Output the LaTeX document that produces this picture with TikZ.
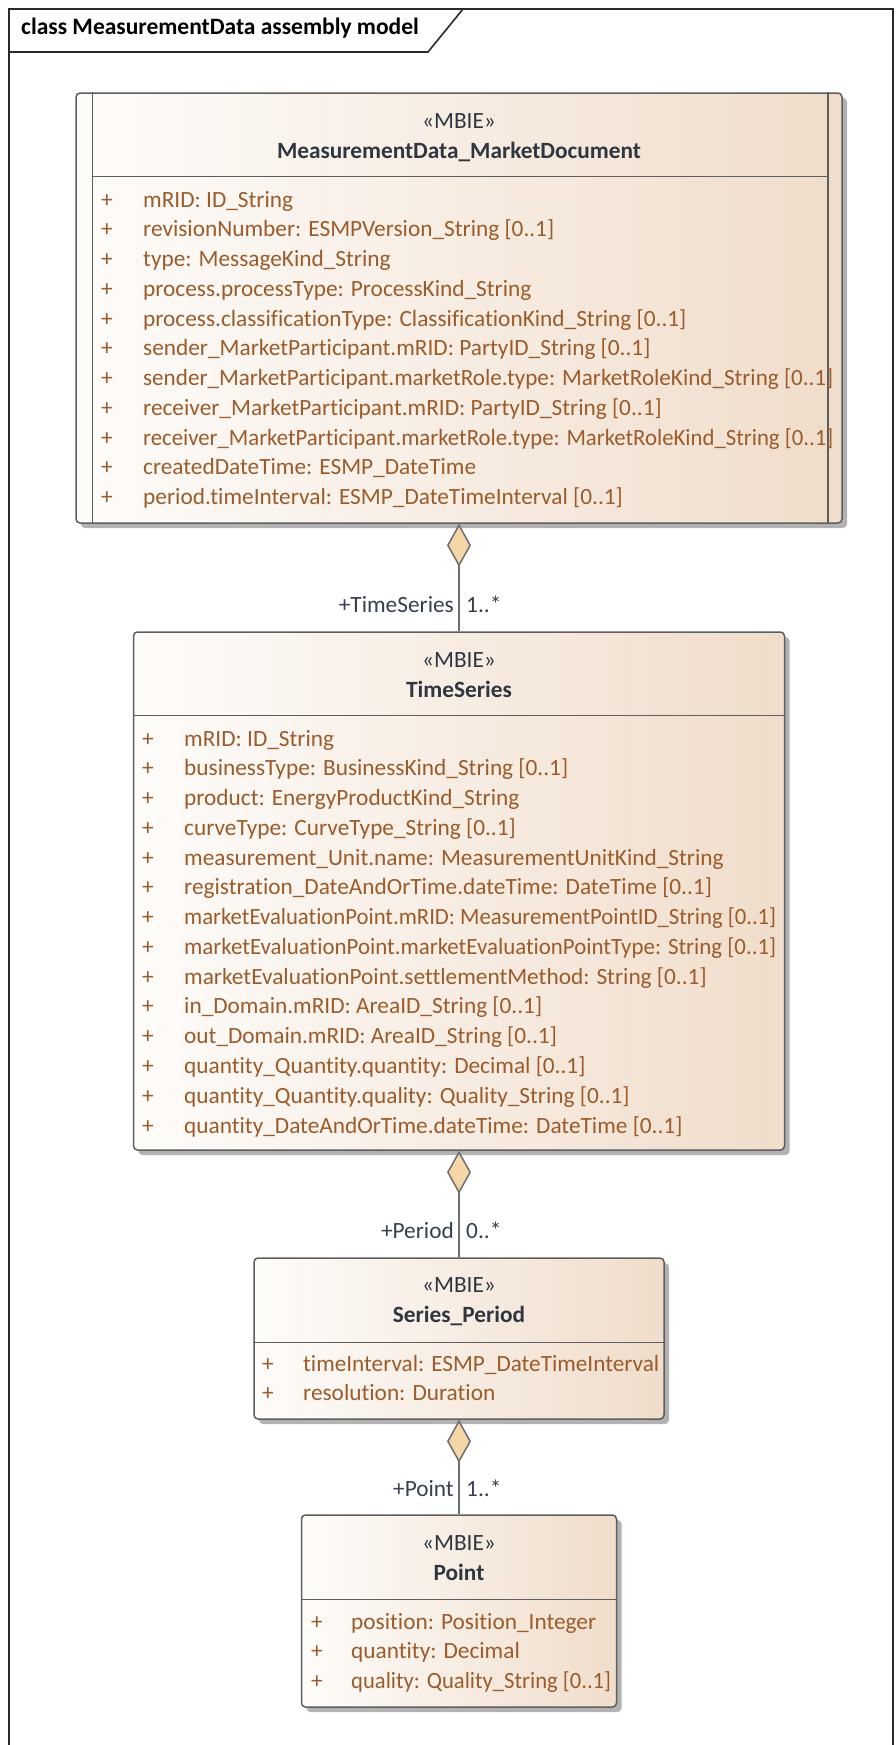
\documentclass[tikz,border=0pt]{standalone}
\usepackage{fontspec}
\setmainfont{Carlito}[Ligatures={NoCommon,NoDiscretionary,NoRare}]
\usepackage{graphicx}
\usetikzlibrary{arrows.meta,shadows}
\definecolor{attrc}{HTML}{9B5B2B}
\definecolor{headc}{HTML}{2F3640}
\definecolor{labc}{HTML}{36404F}
\definecolor{boxc}{HTML}{5E5E5E}
\definecolor{gradl}{HTML}{FEFCFA}
\definecolor{gradr}{HTML}{F0DDCB}
\definecolor{diac}{HTML}{F5D6A8}
\definecolor{linec}{HTML}{6E6E6E}
\definecolor{framec}{HTML}{2A2A2A}
\newcommand\dfont{\fontsize{23.3}{29.75}\selectfont}
\newcommand\tfont{\fontsize{23.5}{29}\selectfont\bfseries}
\newcommand\fitw[2]{\setbox0=\hbox{#2}\ifdim\wd0>#1\relax\resizebox{#1}{\height}{\box0}\else\box0\fi}
\begin{document}
\begin{tikzpicture}[x=1pt,y=-1pt,
  umlbox/.style={draw=boxc, line width=1.5pt, rounded corners=4pt,
    left color=gradl, right color=gradr, inner sep=0pt,
    drop shadow={shadow xshift=5pt, shadow yshift=-5pt, opacity=0.3, fill=black}},
  sepline/.style={draw=boxc, line width=1.5pt},
  stereo/.style={font=\dfont, text=headc, anchor=base, inner sep=0pt},
  cname/.style={font=\dfont\bfseries, text=headc, anchor=base, inner sep=0pt},
  plus/.style={font=\dfont, text=attrc, anchor=base, inner sep=0pt},
  attr/.style={font=\dfont, text=attrc, anchor=base west, inner sep=0pt},
  lab/.style={font=\dfont, text=labc, inner sep=0pt},
  aggr/.style={draw=linec, line width=1.8pt,
    {Diamond[length=43pt,width=24pt,fill=diac,line width=1.5pt]}-}
]
\useasboundingbox (0,0) rectangle (896,1745);
\fill[white] (0,0) rectangle (896,1745);
% frame
\draw[framec, line width=1.6pt] (9,1745) -- (9,9) -- (893,9) -- (893,1745);
\draw[framec, line width=1.6pt] (9,52) -- (428,52) -- (463,9);
\node[font=\tfont, text=black, anchor=base west, inner sep=0pt] (title) at (21,35) {class MeasurementData assembly model};

% ---------- MeasurementData_MarketDocument ----------
\node[umlbox, minimum width=766pt, minimum height=430pt] (doc) at (459,308) {};
\draw[sepline] ([xshift=17pt]doc.north west) -- ([xshift=17pt]doc.south west);
\draw[sepline] ([xshift=-15pt]doc.north east) -- ([xshift=-15pt]doc.south east);
\draw[sepline] ([xshift=17pt,yshift=-84pt]doc.north west) -- ([xshift=-15pt,yshift=-84pt]doc.north east);
\node[stereo] (docst) at (459,128) {«MBIE»};
\node[cname] (docnm) at (459,158) {MeasurementData\_MarketDocument};
\foreach \t [count=\i from 0] in {
  {mRID: ID\_String},
  {revisionNumber: ESMPVersion\_String [0..1]},
  {type: MessageKind\_String},
  {process.processType: ProcessKind\_String},
  {process.classificationType: ClassificationKind\_String [0..1]},
  {sender\_MarketParticipant.mRID: PartyID\_String [0..1]},
  {sender\_MarketParticipant.marketRole.type: MarketRoleKind\_String [0..1]},
  {receiver\_MarketParticipant.mRID: PartyID\_String [0..1]},
  {receiver\_MarketParticipant.marketRole.type: MarketRoleKind\_String [0..1]},
  {createdDateTime: ESMP\_DateTime},
  {period.timeInterval: ESMP\_DateTimeInterval [0..1]}} {
  \node[plus] (dp\i) at (107,207+29.75*\i) {+};
  \node[attr] (da\i) at (143,207+29.75*\i) {\fitw{690pt}{\t}};
}

% ---------- TimeSeries ----------
\node[umlbox, minimum width=651pt, minimum height=518pt] (ts) at (459,891) {};
\draw[sepline] ([yshift=-84pt]ts.north west) -- ([yshift=-84pt]ts.north east);
\node[stereo] (tsst) at (459,667) {«MBIE»};
\node[cname] (tsnm) at (459,697) {TimeSeries};
\foreach \t [count=\i from 0] in {
  {mRID: ID\_String},
  {businessType: BusinessKind\_String [0..1]},
  {product: EnergyProductKind\_String},
  {curveType: CurveType\_String [0..1]},
  {measurement\_Unit.name: MeasurementUnitKind\_String},
  {registration\_DateAndOrTime.dateTime: DateTime [0..1]},
  {marketEvaluationPoint.mRID: MeasurementPointID\_String [0..1]},
  {marketEvaluationPoint.marketEvaluationPointType: String [0..1]},
  {marketEvaluationPoint.settlementMethod: String [0..1]},
  {in\_Domain.mRID: AreaID\_String [0..1]},
  {out\_Domain.mRID: AreaID\_String [0..1]},
  {quantity\_Quantity.quantity: Decimal [0..1]},
  {quantity\_Quantity.quality: Quality\_String [0..1]},
  {quantity\_DateAndOrTime.dateTime: DateTime [0..1]}} {
  \node[plus] (tp\i) at (148,746+29.77*\i) {+};
  \node[attr] (ta\i) at (184,746+29.77*\i) {\fitw{592pt}{\t}};
}

% ---------- Series_Period ----------
\node[umlbox, minimum width=410pt, minimum height=161pt] (sp) at (459,1338.5) {};
\draw[sepline] ([yshift=-85pt]sp.north west) -- ([yshift=-85pt]sp.north east);
\node[stereo] (spst) at (459,1292) {«MBIE»};
\node[cname] (spnm) at (459,1322) {Series\_Period};
\foreach \t [count=\i from 0] in {
  {timeInterval: ESMP\_DateTimeInterval},
  {resolution: Duration}} {
  \node[plus] (sq\i) at (268,1371+29.75*\i) {+};
  \node[attr] (sa\i) at (303,1371+29.75*\i) {\fitw{356pt}{\t}};
}

% ---------- Point ----------
\node[umlbox, minimum width=315pt, minimum height=192pt] (pt) at (459,1611) {};
\draw[sepline] ([yshift=-85pt]pt.north west) -- ([yshift=-85pt]pt.north east);
\node[stereo] (ptst) at (459,1550) {«MBIE»};
\node[cname] (ptnm) at (459,1580) {Point};
\foreach \t [count=\i from 0] in {
  {position: Position\_Integer},
  {quantity: Decimal},
  {quality: Quality\_String [0..1]}} {
  \node[plus] (pp\i) at (317,1629+29.6*\i) {+};
  \node[attr] (pa\i) at (351,1629+29.6*\i) {\fitw{260pt}{\t}};
}

% ---------- aggregations ----------
\draw[aggr] (doc.south) -- (ts.north);
\node[lab, anchor=base east] (l1r) at ([xshift=-5pt,yshift=19pt]ts.north) {+TimeSeries};
\node[lab, anchor=base west] (l1m) at ([xshift=7pt,yshift=19pt]ts.north) {1..*};

\draw[aggr] (ts.south) -- (sp.north);
\node[lab, anchor=base east] (l2r) at ([xshift=-5pt,yshift=19pt]sp.north) {+Period};
\node[lab, anchor=base west] (l2m) at ([xshift=7pt,yshift=19pt]sp.north) {0..*};

\draw[aggr] (sp.south) -- (pt.north);
\node[lab, anchor=base east] (l3r) at ([xshift=-5pt,yshift=18pt]pt.north) {+Point};
\node[lab, anchor=base west] (l3m) at ([xshift=7pt,yshift=18pt]pt.north) {1..*};
\end{tikzpicture}
\end{document}
